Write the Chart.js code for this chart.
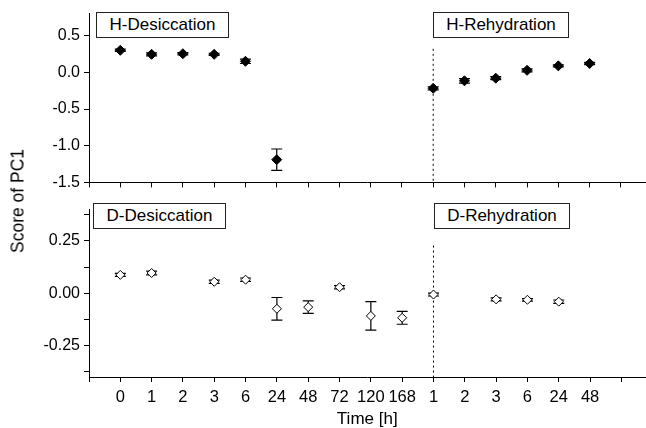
<!DOCTYPE html>
<html lang="en">
<head>
    <meta charset="UTF-8">
    <title>Score of PC1</title>
    <style>
        body {
            margin: 0;
            background: #fff;
            overflow: hidden;
            font-family: "Liberation Sans", Arial, sans-serif;
        }
        .wrap {
            position: relative;
            width: 646px;
            height: 428px;
            overflow: hidden;
        }
        canvas {
            position: absolute;
            left: 0;
        }
        #topChart { top: 0; }
        #bottomChart { top: 196px; }
        .tag {
            position: absolute;
            box-sizing: border-box;
            border: 1px solid #222;
            background: #fff;
            font-size: 17px;
            color: #000;
            display: flex;
            align-items: center;
            justify-content: center;
            height: 26px;
        }
        .ylabel {
            position: absolute;
            left: 18px;
            top: 201px;
            transform: translate(-50%, -50%) rotate(-90deg);
            white-space: nowrap;
            font-size: 17.5px;
            color: #000;
        }
    </style>
    <script src="https://cdn.jsdelivr.net/npm/chart.js"></script>
</head>
<body>
    <div class="wrap">
        <!-- canvases are 5px wider than the page: chart.js keeps a small right gap -->
        <canvas id="topChart" width="651" height="196"></canvas>
        <canvas id="bottomChart" width="651" height="232"></canvas>
        <div class="tag" style="left:96px; top:12px; width:133px;">H-Desiccation</div>
        <div class="tag" style="left:433px; top:12px; width:136px;">H-Rehydration</div>
        <div class="tag" style="left:93px; top:203px; width:133px;">D-Desiccation</div>
        <div class="tag" style="left:434px; top:203px; width:136px;">D-Rehydration</div>
        <div class="ylabel">Score of PC1</div>
    </div>
    <script>
        // time points: desiccation 0..168 h, then rehydration 1..48 h
        const timeLabels = ['0', '1', '2', '3', '6', '24', '48', '72', '120', '168', '1', '2', '3', '6', '24', '48'];

        const hScore = [0.30, 0.245, 0.253, 0.245, 0.15, -1.19, null, null, null, null, -0.218, -0.116, -0.08, 0.027, 0.088, 0.12];
        const hError = [0.015, 0.02, 0.015, 0.015, 0.03, 0.145, null, null, null, null, 0.02, 0.03, 0.02, 0.02, 0.015, 0.015];

        const dScore = [0.088, 0.097, null, 0.055, 0.065, -0.074, -0.066, 0.029, -0.108, -0.117, -0.006, null, -0.029, -0.031, -0.040, null];
        const dError = [0.007, 0.009, null, 0.008, 0.008, 0.054, 0.030, 0.008, 0.068, 0.031, 0.007, null, 0.007, 0.006, 0.008, null];

        const rehydrationStart = 10;
        const family = '"Liberation Sans", Arial, sans-serif';

        function toPoints(values, errors) {
            const pts = [];
            values.forEach((v, i) => {
                if (v !== null) pts.push({ x: i, y: v, err: errors[i] });
            });
            return pts;
        }

        const errorBars = {
            id: 'errorBars',
            beforeDatasetsDraw(chart) {
                const ctx = chart.ctx;
                const xs = chart.scales.x;
                const ys = chart.scales.y;
                ctx.save();
                ctx.strokeStyle = '#000';
                ctx.lineWidth = 1.2;
                chart.data.datasets.forEach(ds => {
                    ds.data.forEach(p => {
                        const x = xs.getPixelForValue(p.x);
                        const yHi = ys.getPixelForValue(p.y + p.err);
                        const yLo = ys.getPixelForValue(p.y - p.err);
                        ctx.beginPath();
                        ctx.moveTo(x, yHi);
                        ctx.lineTo(x, yLo);
                        ctx.moveTo(x - 5.5, yHi);
                        ctx.lineTo(x + 5.5, yHi);
                        ctx.moveTo(x - 5.5, yLo);
                        ctx.lineTo(x + 5.5, yLo);
                        ctx.stroke();
                    });
                });
                ctx.restore();
            }
        };

        const divider = {
            id: 'divider',
            beforeDatasetsDraw(chart, args, opts) {
                const ctx = chart.ctx;
                const x = chart.scales.x.getPixelForValue(opts.at);
                const yTop = chart.scales.y.getPixelForValue(opts.from);
                ctx.save();
                ctx.strokeStyle = '#000';
                ctx.lineWidth = 1;
                ctx.setLineDash([2, 3]);
                ctx.beginPath();
                ctx.moveTo(x, yTop);
                ctx.lineTo(x, chart.chartArea.bottom);
                ctx.stroke();
                ctx.restore();
            }
        };

        function xAxis(showLabels) {
            return {
                type: 'linear',
                min: -1,
                max: 16.77,
                border: { color: '#000', width: 1 },
                grid: { drawOnChartArea: false, drawTicks: true, tickLength: 5, color: '#000' },
                ticks: {
                    stepSize: 1,
                    includeBounds: false,
                    autoSkip: false,
                    maxRotation: 0,
                    padding: 6,
                    color: '#000',
                    font: { family: family, size: 16.5 },
                    callback: v => (showLabels && timeLabels[v] !== undefined) ? timeLabels[v] : ''
                },
                title: showLabels ? {
                    display: true,
                    text: 'Time [h]',
                    color: '#000',
                    font: { family: family, size: 17 },
                    padding: { top: 0, bottom: -2 }
                } : { display: false },
                afterFit: s => { s.height = showLabels ? 51 : 11; }
            };
        }

        function yAxis(min, max, step, fmt) {
            return {
                min: min,
                max: max,
                border: { color: '#000', width: 1 },
                grid: { drawOnChartArea: false, drawTicks: true, tickLength: 5, color: '#000' },
                ticks: {
                    stepSize: step,
                    includeBounds: false,
                    padding: 4,
                    color: '#000',
                    font: { family: family, size: 16 },
                    callback: fmt
                },
                afterFit: s => { s.width = 89; }
            };
        }

        new Chart(document.getElementById('topChart'), {
            type: 'scatter',
            data: {
                datasets: [{
                    label: 'H',
                    data: toPoints(hScore, hError),
                    pointStyle: 'rectRot',
                    pointRadius: 5,
                    backgroundColor: '#000',
                    borderColor: '#000',
                    borderWidth: 1
                }]
            },
            options: {
                responsive: false,
                animation: false,
                layout: { padding: { top: 12, right: 0, bottom: 0, left: 0 } },
                plugins: {
                    legend: { display: false },
                    tooltip: { enabled: false },
                    divider: { at: rehydrationStart, from: 0.32 }
                },
                scales: {
                    x: xAxis(false),
                    y: yAxis(-1.5, 0.8, 0.5, v => v.toFixed(1))
                }
            },
            plugins: [errorBars, divider]
        });

        new Chart(document.getElementById('bottomChart'), {
            type: 'scatter',
            data: {
                datasets: [{
                    label: 'D',
                    data: toPoints(dScore, dError),
                    pointStyle: 'rectRot',
                    pointRadius: 4.5,
                    backgroundColor: '#fff',
                    borderColor: '#000',
                    borderWidth: 1
                }]
            },
            options: {
                responsive: false,
                animation: false,
                layout: { padding: { top: 7, right: 0, bottom: 0, left: 0 } },
                plugins: {
                    legend: { display: false },
                    tooltip: { enabled: false },
                    divider: { at: rehydrationStart, from: 0.228 }
                },
                scales: {
                    x: xAxis(true),
                    y: yAxis(-0.4, 0.4, 0.125, v => {
                        const q = v / 0.25;
                        return Math.abs(q - Math.round(q)) < 1e-6 ? v.toFixed(2) : '';
                    })
                }
            },
            plugins: [errorBars, divider]
        });
    </script>
</body>
</html>
